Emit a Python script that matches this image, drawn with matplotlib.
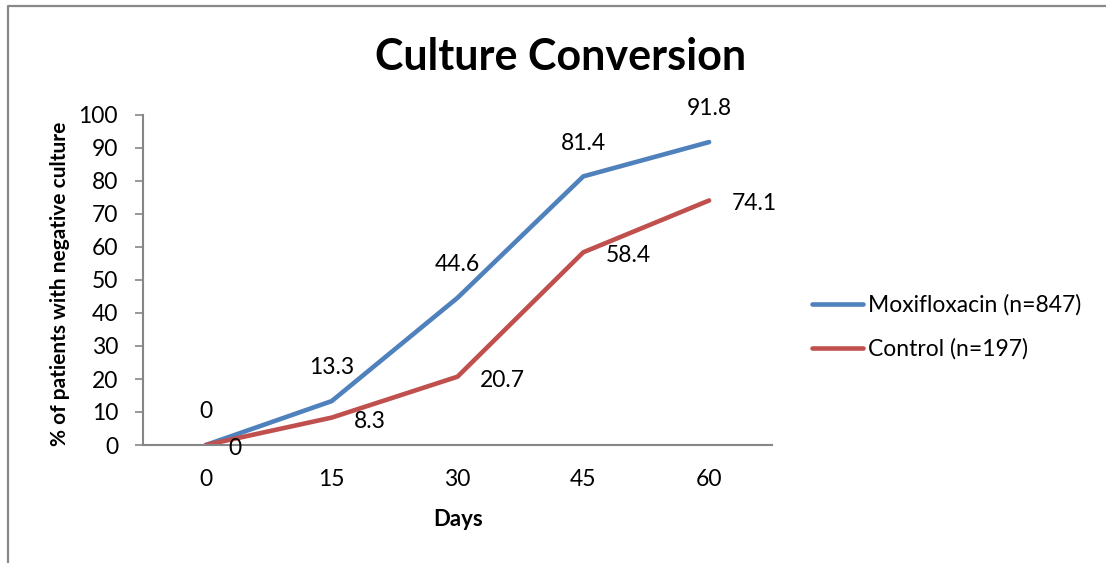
import matplotlib
matplotlib.use("Agg")
import matplotlib.pyplot as plt
from matplotlib.lines import Line2D

days = ["0", "15", "30", "45", "60"]
moxi = [0, 13.3, 44.6, 81.4, 91.8]
control = [0, 8.3, 20.7, 58.4, 74.1]
series_names = ["Moxifloxacin (n=847)", "Control (n=197)"]
yticks = [0, 10, 20, 30, 40, 50, 60, 70, 80, 90, 100]

plt.rcParams['font.family'] = ['Lato', 'DejaVu Sans']
W, H = 1106, 563
fig = plt.figure(figsize=(W / 100, H / 100), dpi=100)
ax = fig.add_axes([143 / W, 1 - 445 / H, (772 - 143) / W, (445 - 115) / H])

blue = "#4F81BD"
red = "#C0504D"
x = list(range(len(days)))
ax.plot(x, moxi, color=blue, lw=3.3, solid_capstyle="round", label=series_names[0])
ax.plot(x, control, color=red, lw=3.3, solid_capstyle="round", label=series_names[1])

fs = 16.5
for xi, v in zip(x, moxi):
    ax.annotate(f"{v:g}", (xi, v), xytext=(0, 24), textcoords="offset points",
                ha="center", va="center", fontsize=fs)
for xi, v in zip(x, control):
    ax.annotate(f"{v:g}", (xi, v), xytext=(16, -2.5), textcoords="offset points",
                ha="left", va="center", fontsize=fs)

ax.set_xlim(-0.5, len(days) - 0.5)
ax.set_ylim(0, 100)
ax.set_xticks(x)
ax.set_xticklabels(days)
ax.set_yticks(yticks)
ax.tick_params(axis="x", length=0, labelsize=fs, pad=17)
ax.tick_params(axis="y", length=6, width=1.2, color="#868686", labelsize=fs, pad=12)
for s in ["top", "right"]:
    ax.spines[s].set_visible(False)
for s in ["left", "bottom"]:
    ax.spines[s].set_color("#868686")
    ax.spines[s].set_linewidth(1.5)

fig.text(458 / W, 1 - 520 / H, "Days", ha="center", va="center",
         fontsize=16, fontweight="bold")
fig.text(60 / W, 1 - 284 / H, "% of patients with negative culture", ha="center", va="center",
         rotation=90, fontsize=15, fontweight="bold")
fig.text(561 / W, 1 - 57 / H, "Culture Conversion", ha="center", va="center",
         fontsize=31, fontweight="bold")

leg = fig.legend(loc="center left", bbox_to_anchor=(791 / W, 1 - 327 / H), frameon=False,
                 fontsize=fs, handlelength=2.26, handletextpad=0.2, labelspacing=1.0)

fig.add_artist(Line2D([8 / W, 8 / W, 1.0], [0.0, 1 - 6 / H, 1 - 6 / H],
                      transform=fig.transFigure, color="#888888", lw=1.6))

fig.savefig("out.png", dpi=100)
